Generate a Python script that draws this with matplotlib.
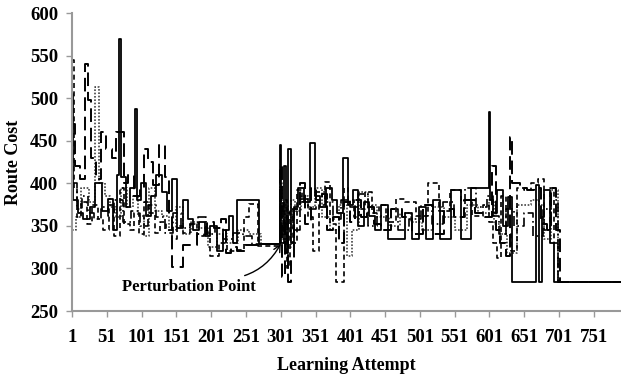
#import libraries
import matplotlib
matplotlib.use("Agg")
import matplotlib.pyplot as plt

#step change points (learning attempt) and route cost of each run
x_solid=[1, 3, 9, 17, 27, 34, 44, 52, 60, 66,
         69, 72, 78, 85, 92, 95, 100, 108, 115, 122,
         130, 138, 145, 152, 160, 168, 175, 183, 192, 200,
         210, 218, 226, 232, 238, 242, 270, 300, 302, 305,
         308, 312, 316, 320, 326, 335, 343, 350, 358, 366,
         374, 382, 390, 398, 405, 412, 420, 428, 436, 445,
         455, 470, 480, 490, 500, 510, 520, 530, 545, 560,
         575, 590, 600, 602, 606, 612, 620, 628, 634, 640,
         660, 668, 672, 676, 680, 688, 694, 700, 790]
y_solid=[505, 380, 365, 358, 372, 400, 368, 382, 345, 410,
         570, 408, 372, 395, 488, 380, 400, 362, 385, 410,
         390, 368, 405, 348, 380, 358, 345, 355, 338, 350,
         320, 345, 362, 330, 380, 380, 329, 445, 330, 420,
         318, 440, 330, 372, 395, 378, 448, 385, 372, 395,
         380, 365, 430, 375, 392, 350, 378, 362, 345, 375,
         335, 335, 365, 335, 372, 335, 380, 335, 392, 335,
         395, 395, 484, 380, 365, 392, 350, 384, 284, 284,
         284, 398, 284, 360, 392, 330, 284, 284, 284]

x_long=[1, 5, 12, 20, 24, 28, 36, 42, 50, 58,
        64, 75, 82, 90, 98, 104, 110, 118, 126, 134,
        140, 145, 150, 160, 170, 180, 195, 205, 215, 222,
        230, 238, 250, 262, 275, 300, 303, 307, 311, 315,
        320, 328, 336, 344, 352, 360, 368, 376, 384, 392,
        400, 408, 416, 425, 435, 445, 460, 475, 490, 505,
        520, 535, 550, 565, 580, 595, 604, 610, 616, 624,
        630, 634, 645, 655, 665, 675, 684, 690, 696, 702,
        790]
y_long=[470, 420, 405, 540, 498, 430, 405, 460, 440, 430,
        460, 400, 410, 385, 395, 440, 425, 398, 445, 408,
        360, 302, 302, 328, 328, 340, 355, 348, 358, 318,
        325, 320, 328, 328, 329, 420, 290, 360, 284, 310,
        370, 400, 352, 395, 380, 388, 345, 360, 330, 378,
        355, 380, 360, 372, 352, 345, 370, 360, 340, 375,
        340, 370, 360, 380, 365, 360, 420, 345, 330, 315,
        455, 400, 395, 392, 395, 352, 345, 395, 345, 284,
        284]

x_short=[1, 4, 8, 14, 22, 30, 38, 46, 54, 62,
         70, 76, 84, 90, 97, 104, 112, 120, 128, 136,
         144, 152, 160, 170, 180, 190, 200, 212, 224, 236,
         248, 256, 268, 300, 302, 306, 310, 314, 318, 324,
         332, 340, 348, 356, 364, 372, 380, 386, 392, 398,
         406, 414, 422, 432, 442, 452, 466, 480, 496, 512,
         528, 544, 560, 576, 592, 600, 606, 612, 618, 624,
         632, 640, 650, 660, 670, 680, 688, 694, 700, 790]
y_short=[545, 395, 360, 378, 352, 375, 358, 345, 375, 338,
         395, 352, 345, 365, 340, 378, 365, 342, 355, 345,
         335, 350, 342, 352, 338, 342, 315, 330, 320, 322,
         360, 376, 326, 390, 340, 380, 300, 370, 330, 392,
         378, 360, 320, 375, 402, 352, 284, 284, 395, 380,
         360, 370, 390, 365, 375, 355, 382, 378, 362, 400,
         368, 392, 380, 362, 375, 355, 330, 312, 385, 340,
         320, 395, 392, 400, 405, 345, 395, 330, 284, 284]

x_dot=[1, 6, 14, 26, 34, 40, 48, 56, 64, 72,
       80, 88, 96, 104, 112, 120, 130, 140, 150, 160,
       172, 184, 196, 210, 224, 240, 256, 272, 300, 303,
       307, 311, 316, 322, 330, 340, 350, 360, 372, 384,
       396, 404, 414, 426, 440, 456, 472, 488, 504, 520,
       536, 552, 568, 584, 600, 608, 616, 626, 640, 660,
       672, 680, 690, 700, 790]
y_dot=[345, 360, 395, 378, 513, 400, 385, 372, 360, 395,
       372, 385, 362, 338, 395, 368, 362, 345, 372, 340,
       355, 348, 325, 340, 330, 345, 340, 329, 400, 340,
       375, 325, 380, 368, 385, 372, 395, 360, 345, 375,
       315, 345, 390, 375, 360, 350, 365, 355, 345, 372,
       360, 345, 375, 365, 380, 352, 340, 318, 375, 380,
       375, 335, 392, 284, 284]

x_dashdot=[1, 8, 16, 24, 32, 42, 52, 62, 74, 86,
           98, 110, 122, 134, 146, 158, 170, 182, 194, 206,
           218, 232, 246, 260, 300, 304, 310, 318, 328, 340,
           352, 364, 376, 388, 400, 412, 426, 440, 455, 470,
           486, 502, 518, 534, 550, 566, 582, 598, 606, 614,
           624, 636, 650, 664, 678, 690, 700, 790]
y_dashdot=[400, 370, 385, 365, 358, 372, 362, 380, 355, 368,
           350, 375, 360, 342, 365, 348, 352, 360, 340, 348,
           335, 342, 338, 329, 380, 335, 365, 345, 382, 370,
           390, 378, 358, 380, 372, 388, 350, 362, 370, 345,
           358, 375, 352, 378, 360, 395, 372, 385, 362, 340,
           370, 350, 365, 338, 370, 380, 284, 284]

xticks=list(range(1,752,50))

plt.rcParams['font.family']=['Liberation Serif','DejaVu Serif']
plt.rcParams['font.weight']='bold'

fig=plt.figure(figsize=(6.21,3.77),dpi=100)
ax=fig.add_axes([0.116,0.175,0.884,0.79])

#draw the runs
ax.plot(x_dot,y_dot,drawstyle='steps-post',color='#444444',lw=1.2,linestyle=(0,(1,1)))
ax.plot(x_dashdot,y_dashdot,drawstyle='steps-post',color='black',lw=1.2,linestyle=(0,(6,2,1,2)))
ax.plot(x_short,y_short,drawstyle='steps-post',color='black',lw=1.2,linestyle=(0,(3,2)))
ax.plot(x_long,y_long,drawstyle='steps-post',color='black',lw=1.4,linestyle=(0,(7,3)))
ax.plot(x_solid,y_solid,drawstyle='steps-post',color='black',lw=1.3)

#annotation
ax.annotate('Perturbation Point',xy=(301,329),xytext=(73,278),
            fontsize=12,fontweight='bold',va='center',
            arrowprops=dict(arrowstyle='->',color='black',lw=1,
                            connectionstyle='arc3,rad=0.3',shrinkA=2,shrinkB=0,
                            relpos=(0.73,1.0)))

#axes style
ax.set_xlim(1,790)
ax.set_ylim(250,600)
ax.set_xticks(xticks)
ax.set_yticks(range(250,601,50))
for s in ['top','right']:
    ax.spines[s].set_visible(False)
for s in ['left','bottom']:
    ax.spines[s].set_color('#999999')
    ax.spines[s].set_linewidth(1.5)
ax.tick_params(axis='both',colors='#999999',labelcolor='black',labelsize=13.5,length=4,width=1)
ax.tick_params(axis='x',pad=9)
ax.tick_params(axis='y',pad=6)
ax.set_xlabel('Learning Attempt',fontsize=13,fontweight='bold',labelpad=8)
ax.set_ylabel('Route Cost',fontsize=13,fontweight='bold',labelpad=6)

plt.savefig('out.png',dpi=100)
